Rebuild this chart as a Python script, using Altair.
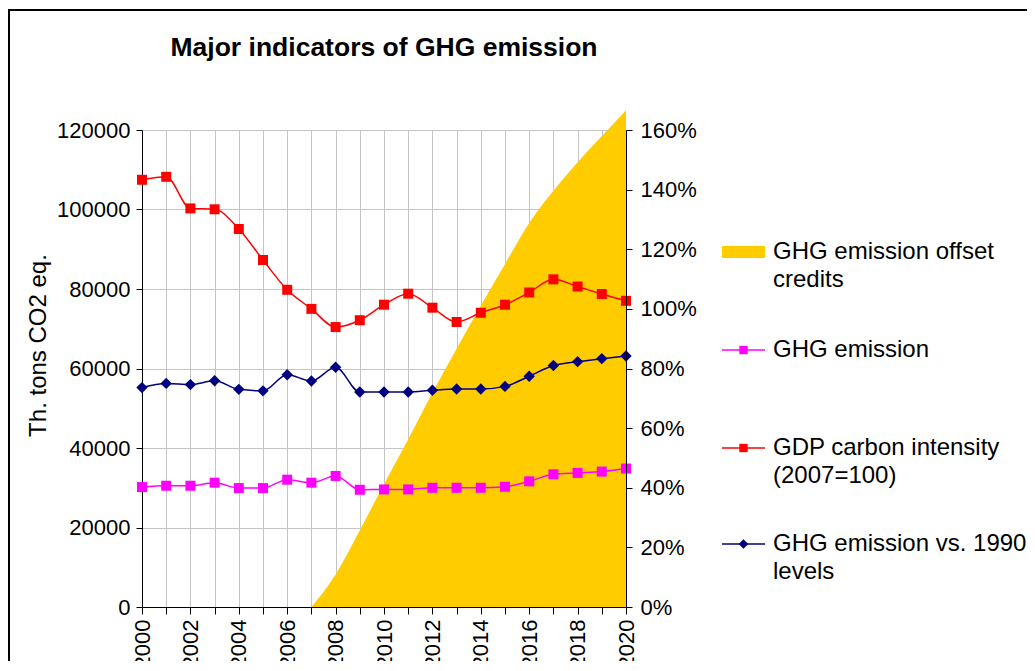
import altair as alt
import pandas as pd

FONT = "Liberation Sans"

# ---------------- data ----------------
years = list(range(2000, 2021))
offset_years = list(range(2007, 2021))
offset_credits = [0, 8200, 19300, 30900, 42200, 53900, 65000, 75800, 86300,
                  96600, 104700, 111900, 118500, 125000]
ghg_emission = [30170, 30510, 30510, 31270, 29920, 29920, 32030, 31270, 32970,
                29490, 29580, 29580, 30000, 30000, 30000, 30250, 31610, 33390,
                33730, 34070, 34830]
gdp_carbon_intensity = [143.3, 144.3, 133.7, 133.4, 126.8, 116.4, 106.4, 100.0,
                        93.9, 96.2, 101.4, 105.1, 100.4, 95.6, 98.7, 101.4,
                        105.5, 109.9, 107.5, 105.0, 102.7]
ghg_vs_1990 = [73.6, 75.0, 74.6, 75.9, 73.0, 72.5, 77.9, 75.8, 80.4, 72.1, 72.1,
               72.1, 72.7, 73.1, 73.1, 74.0, 77.4, 81.0, 82.3, 83.3, 84.2]

left_ticks = [0, 20000, 40000, 60000, 80000, 100000, 120000]
right_ticks = [0, 0.2, 0.4, 0.6, 0.8, 1.0, 1.2, 1.4, 1.6]

title_text = "Major indicators of GHG emission"
y_title = "Th. tons CO2 eq."
legend_labels = [
    ["GHG emission offset", "credits"],
    ["GHG emission"],
    ["GDP carbon intensity", "(2007=100)"],
    ["GHG emission vs. 1990", "levels"],
]

# ---------------- layout / style ----------------
W, H = 484, 477
PAD_L, PAD_T, PAD_R, PAD_B = 134, 122, 401, 54
GOLD, MAGENTA, RED, NAVY = "#FFCC00", "#FF00FF", "#FF0000", "#000080"
GRID = "#c4c4c4"

df_offset = pd.DataFrame({"year": offset_years, "value": offset_credits})
df_ghg = pd.DataFrame({"year": years, "value": ghg_emission})
df_gdp = pd.DataFrame({"year": years, "pct": [v / 100 for v in gdp_carbon_intensity]})
df_vs = pd.DataFrame({"year": years, "pct": [v / 100 for v in ghg_vs_1990]})

x_enc = alt.X(
    "year:Q",
    scale=alt.Scale(domain=[2000, 2020], nice=False, zero=False),
    axis=alt.Axis(
        values=years, format="d",
        labelExpr="datum.value % 2 == 0 ? datum.label : ''",
        labelAngle=270, labelPadding=5, tickSize=7, grid=True, gridColor=GRID,
        title=None, labelFontSize=22, labelFont=FONT, labelColor="black",
        domainColor="black", tickColor="black",
    ),
)

yl = alt.Y(
    "value:Q",
    scale=alt.Scale(domain=[0, 120000], nice=False, zero=True),
    axis=alt.Axis(
        values=left_ticks, format="d", orient="left", title=y_title,
        titleFont=FONT, titleFontSize=24, titleFontWeight="normal",
        titleColor="black", titleAngle=270, titleX=-104, titleY=215,
        titleAlign="center", titleBaseline="middle",
        grid=True, gridColor=GRID, tickSize=6, labelPadding=6,
        labelFont=FONT, labelFontSize=22, labelColor="black",
        domainColor="black", tickColor="black",
    ),
)

yr = alt.Y(
    "pct:Q",
    scale=alt.Scale(domain=[0, 1.6], nice=False, zero=True),
    axis=alt.Axis(
        values=right_ticks, format=".0%", orient="right", title=None,
        grid=False, tickSize=6, labelPadding=8, zindex=1,
        labelFont=FONT, labelFontSize=22, labelColor="black",
        domainColor="black", tickColor="black",
    ),
)

area = alt.Chart(df_offset).mark_area(color=GOLD, interpolate="monotone", opacity=1).encode(
    x=x_enc, y=yl)
ghg_line = alt.Chart(df_ghg).mark_line(color=MAGENTA, strokeWidth=1.5, interpolate="monotone").encode(
    x=x_enc, y=yl)
ghg_pts = alt.Chart(df_ghg).mark_point(shape="square", filled=True, size=100, color=MAGENTA, opacity=1).encode(
    x=x_enc, y=yl)

gdp_line = alt.Chart(df_gdp).mark_line(color=RED, strokeWidth=1.5, interpolate="monotone").encode(
    x=x_enc, y=yr)
gdp_pts = alt.Chart(df_gdp).mark_point(shape="square", filled=True, size=100, color=RED, opacity=1).encode(
    x=x_enc, y=yr)
vs_line = alt.Chart(df_vs).mark_line(color=NAVY, strokeWidth=1.5, interpolate="monotone").encode(
    x=x_enc, y=yr)
vs_pts = alt.Chart(df_vs).mark_point(shape="diamond", filled=True, size=130, color=NAVY, opacity=1).encode(
    x=x_enc, y=yr)

left = alt.layer(area, ghg_line, ghg_pts)
right = alt.layer(gdp_line, gdp_pts, vs_line, vs_pts)

one = pd.DataFrame({"a": [0]})

decor = []
# title
decor.append(alt.Chart(one).mark_text(
    text=title_text, font=FONT, fontSize=26.5, fontWeight="bold", color="black",
    align="center", baseline="alphabetic").encode(x=alt.value(W / 2), y=alt.value(-74)))
# outer frame
decor.append(alt.Chart(one).mark_rule(color="black", strokeWidth=2).encode(
    x=alt.value(-PAD_L), x2=alt.value(W + PAD_R), y=alt.value(-PAD_T + 2)))
decor.append(alt.Chart(one).mark_rule(color="black", strokeWidth=2).encode(
    x=alt.value(-PAD_L + 1), y=alt.value(-PAD_T + 1), y2=alt.value(H + PAD_B)))

# legend
LX0, LX1, LTX = 580, 623, 631
entry_y = [122, 220, 318, 414]
LINE_H = 28
sym_styles = [
    ("area", GOLD, None),
    ("line", MAGENTA, "square"),
    ("line", RED, "square"),
    ("line", NAVY, "diamond"),
]
for (kind, col, shp), labels, yy in zip(sym_styles, legend_labels, entry_y):
    if kind == "area":
        decor.append(alt.Chart(one).mark_rect(color=col).encode(
            x=alt.value(LX0), x2=alt.value(LX1), y=alt.value(yy - 6), y2=alt.value(yy + 6)))
    else:
        decor.append(alt.Chart(one).mark_rule(color=col, strokeWidth=1.5).encode(
            x=alt.value(LX0), x2=alt.value(LX1), y=alt.value(yy)))
        decor.append(alt.Chart(one).mark_point(shape=shp, filled=True, color=col, opacity=1,
                                               size=70 if shp == "square" else 90).encode(
            x=alt.value((LX0 + LX1) / 2), y=alt.value(yy)))
    for k, line in enumerate(labels):
        decor.append(alt.Chart(one).mark_text(
            text=line, font=FONT, fontSize=24, color="black", align="left",
            baseline="middle").encode(x=alt.value(LTX), y=alt.value(yy + k * LINE_H)))

chart = alt.layer(left, right, *decor).resolve_scale(y="independent").properties(
    width=W, height=H,
    padding={"left": PAD_L, "top": PAD_T, "right": PAD_R, "bottom": PAD_B},
    autosize=alt.AutoSizeParams(type="none"),
).configure_view(stroke=None).configure(background="white")

chart.save("out.html", embed_options={"renderer": "svg", "actions": False})
